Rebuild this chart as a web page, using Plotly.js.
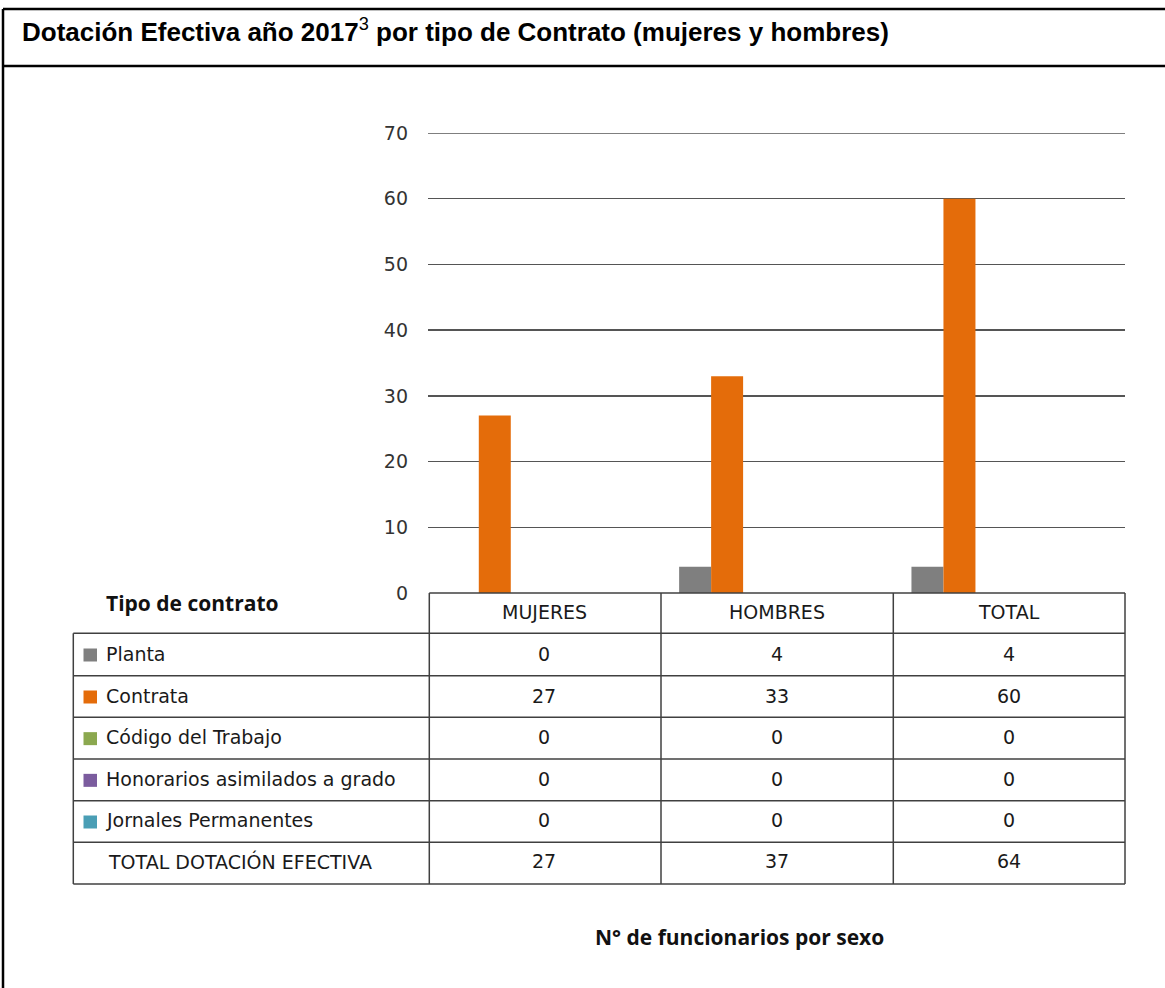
<!DOCTYPE html>
<html>
<head>
<meta charset="utf-8">
<script src="https://cdn.plot.ly/plotly-3.0.1.min.js"></script>
<style>html,body{margin:0;padding:0;background:#fff;}#chart{width:1165px;height:988px;}</style>
</head>
<body>
<div id="chart"></div>
<script>
// ---- data ----
const categories = ["MUJERES", "HOMBRES", "TOTAL"];
const seriesNames = ["Planta", "Contrata", "Código del Trabajo", "Honorarios asimilados a grado", "Jornales Permanentes"];
const planta = [0, 4, 4];
const contrata = [27, 33, 60];
const codigoTrabajo = [0, 0, 0];
const honorarios = [0, 0, 0];
const jornales = [0, 0, 0];
const totalDotacion = [27, 37, 64];
const totalLabel = "TOTAL DOTACIÓN EFECTIVA";
const yTicks = [0, 10, 20, 30, 40, 50, 60, 70];
const seriesColors = ["#7F7F7F", "#E46C0A", "#8BA84F", "#7B5C9E", "#4A9EB5"];

const seriesValues = [planta, contrata, codigoTrabajo, honorarios, jornales];

// ---- geometry helpers (pixel -> paper) ----
const L = 428, R = 1125, T = 133, B = 593;
const px = x => (x - L) / (R - L);
const py = y => (B - y) / (B - T);

const barW = 0.1377;
const traces = seriesValues.map((vals, i) => ({
  type: "bar",
  name: seriesNames[i],
  x: categories,
  y: vals,
  width: barW,
  offset: (i - 3) * barW - 0.006,
  marker: {color: seriesColors[i], line: {width: 0}},
  hoverinfo: "skip",
  showlegend: false
}));

const lineColor = "#404040";
const gridColor = "#555555";
const shapes = [];
const line = (x0, y0, x1, y1, color, w) => shapes.push({
  type: "line", xref: "paper", yref: "paper",
  x0: px(x0), y0: py(y0), x1: px(x1), y1: py(y1),
  line: {color: color, width: w}, layer: "above"
});

// top gridline (edge of range)
shapes.push({
  type: "line", xref: "paper", yref: "y",
  x0: 0, x1: 1, y0: yTicks[yTicks.length - 1], y1: yTicks[yTicks.length - 1],
  line: {color: gridColor, width: 1.5}, layer: "below"
});

// outer frame
line(3, 9, 3, 988, "#000", 2.5);
line(3, 9, 1165, 9, "#000", 2.5);
line(3, 66, 1165, 66, "#000", 2.5);

// table grid
const rowLines = [633.3, 675.7, 717.3, 759, 800.7, 842.3, 884];
const colLines = [429.3, 661, 893.3, 1125];
line(429.3, 593, 1125, 593, lineColor, 1.5);
rowLines.forEach(y => line(73.3, y, 1125, y, lineColor, 1.5));
line(73.3, 633.3, 73.3, 884, lineColor, 1.5);
colLines.forEach(x => line(x, 593, x, 884, lineColor, 1.5));

const annotations = [];
const txtFont = {family: "DejaVu Sans, sans-serif", size: 19, color: "#1a1a1a"};
const boldFont = {family: "Open Sans, sans-serif", size: 21, color: "#111", weight: 700};

// title
annotations.push({
  xref: "paper", yref: "paper", x: px(20), y: py(31), xanchor: "left", yanchor: "middle",
  text: "<b>Dotación Efectiva año 2017</b><sup>3</sup><b> por tipo de Contrato (mujeres y hombres)</b>",
  showarrow: false,
  font: {family: "Liberation Sans Narrow, Arial Narrow, Liberation Sans, sans-serif", size: 26, color: "#000"}
});

// table header
annotations.push({
  xref: "paper", yref: "paper", x: px(104), y: py(603), xanchor: "left", yanchor: "middle",
  text: "<b>Tipo de contrato</b>", showarrow: false, font: boldFont
});
categories.forEach(c => annotations.push({
  xref: "x", yref: "paper", x: c, y: py(612), xanchor: "center", yanchor: "middle",
  text: c, showarrow: false, font: txtFont
}));

// table rows
const rowCenters = rowLines.slice(0, -1).map((y, i) => (y + rowLines[i + 1]) / 2);
seriesNames.forEach((name, i) => {
  const yc = rowCenters[i];
  shapes.push({
    type: "rect", xref: "paper", yref: "paper",
    x0: px(83.5), x1: px(97), y0: py(yc + 7), y1: py(yc - 6),
    fillcolor: seriesColors[i], line: {width: 0}
  });
  annotations.push({
    xref: "paper", yref: "paper", x: px(104), y: py(yc - 1), xanchor: "left", yanchor: "middle",
    text: name, showarrow: false, font: txtFont
  });
  categories.forEach((c, j) => annotations.push({
    xref: "x", yref: "paper", x: c, y: py(yc - 1), xanchor: "center", yanchor: "middle",
    text: String(seriesValues[i][j]), showarrow: false, font: txtFont
  }));
});
const yTot = rowCenters[5];
annotations.push({
  xref: "paper", yref: "paper", x: px(106), y: py(yTot - 2), xanchor: "left", yanchor: "middle",
  text: totalLabel, showarrow: false, font: txtFont
});
categories.forEach((c, j) => annotations.push({
  xref: "x", yref: "paper", x: c, y: py(yTot - 2), xanchor: "center", yanchor: "middle",
  text: String(totalDotacion[j]), showarrow: false, font: txtFont
}));

// bottom label
annotations.push({
  xref: "paper", yref: "paper", x: px(739), y: py(937), xanchor: "center", yanchor: "middle",
  text: "<b>N° de funcionarios por sexo</b>", showarrow: false, font: boldFont
});

const layout = {
  width: 1165, height: 988, autosize: false,
  margin: {l: L, r: 1165 - R, t: T, b: 988 - B, pad: 0},
  paper_bgcolor: "#fff", plot_bgcolor: "#fff",
  barmode: "overlay",
  showlegend: false,
  xaxis: {range: [-0.5, 2.5], showticklabels: false, showgrid: false, zeroline: false, showline: false, fixedrange: true},
  yaxis: {
    range: [0, 70], tickvals: yTicks, ticktext: yTicks.map(String),
    showgrid: true, gridcolor: gridColor, gridwidth: 1.5,
    zeroline: false, showline: false, ticks: "",
    ticklabelstandoff: 19,
    tickfont: {family: "DejaVu Sans, sans-serif", size: 19, color: "#333"},
    fixedrange: true
  },
  shapes: shapes,
  annotations: annotations
};

Plotly.newPlot("chart", traces, layout, {displayModeBar: false, staticPlot: true});
</script>
</body>
</html>
